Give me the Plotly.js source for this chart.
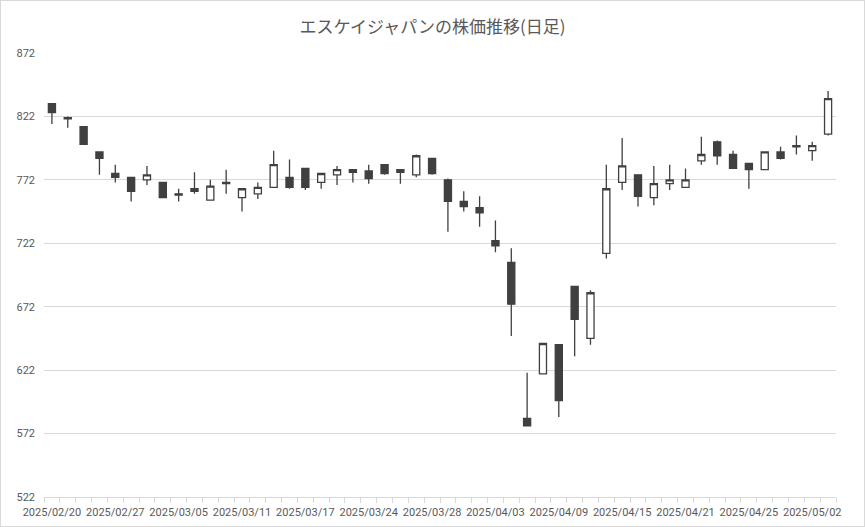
<!DOCTYPE html>
<html>
<head>
<meta charset="utf-8">
<script src="https://cdn.plot.ly/plotly-3.0.1.min.js"></script>
<style>
  html, body { margin: 0; padding: 0; background: #fff; }
  #wrap { position: relative; width: 865px; height: 527px; }
  #chart { width: 865px; height: 527px; }
  #frame { position: absolute; left: 0; top: 0; width: 863px; height: 525px; border: 1px solid #d9d9d9; pointer-events: none; }
</style>
</head>
<body>
<div id="wrap"><div id="chart"></div><div id="frame"></div></div>
<script>
const dates = [
  "2025/02/20","2025/02/21","2025/02/25","2025/02/26","2025/02/27","2025/02/28","2025/03/03","2025/03/04",
  "2025/03/05","2025/03/06","2025/03/07","2025/03/10","2025/03/11","2025/03/12","2025/03/13","2025/03/14",
  "2025/03/17","2025/03/18","2025/03/19","2025/03/21","2025/03/24","2025/03/25","2025/03/26","2025/03/27",
  "2025/03/28","2025/03/31","2025/04/01","2025/04/02","2025/04/03","2025/04/04","2025/04/07","2025/04/08",
  "2025/04/09","2025/04/10","2025/04/11","2025/04/14","2025/04/15","2025/04/16","2025/04/17","2025/04/18",
  "2025/04/21","2025/04/22","2025/04/23","2025/04/24","2025/04/25","2025/04/28","2025/04/30","2025/05/01",
  "2025/05/02","2025/05/07"
];
const openP = [832,820,814,794,777,774,772,770, 761,763,756,770,758,761,766,774,
               781,770,776,780,779,784,780,776, 789,772,755,750,724,707,584,619,
               642,688,647,714,770,776,758,769, 766,787,802,792,785,780,794,799,
               795,808];
const highP = [832,822,814,794,784,774,783,770, 765,778,772,780,765,770,795,788,
               781,777,783,780,784,784,780,792, 789,773,763,759,740,718,620,643,
               642,688,685,784,805,776,783,784, 781,806,803,795,785,794,798,807,
               802,842];
const lowP  = [816,813,800,776,770,755,768,758, 755,761,756,761,747,757,766,765,
               764,765,768,770,769,776,769,774, 776,731,747,735,715,649,578,619,
               585,633,642,710,764,751,752,764, 766,784,784,781,765,780,788,792,
               787,807];
const closeP= [825,821,800,789,774,763,776,758, 760,765,767,769,765,766,784,766,
               766,777,780,778,773,777,778,791, 777,755,751,746,720,674,578,643,
               598,662,683,765,783,759,769,772, 772,792,791,781,780,794,789,798,
               799,836];
const yTicks = [522,572,622,672,722,772,822,872];

const idx = dates.map((d, i) => i);
const labelIdx = idx.filter(i => i % 4 === 0);

const dark = '#404040';
const trace = {
  type: 'candlestick',
  x: idx,
  open: openP, high: highP, low: lowP, close: closeP,
  text: dates,
  increasing: { fillcolor: '#ffffff', line: { color: dark, width: 1.3 } },
  decreasing: { fillcolor: dark, line: { color: dark, width: 1.3 } },
  whiskerwidth: 0,
  hoverinfo: 'text'
};

const tickFont = { family: 'Roboto, "Noto Sans CJK JP", sans-serif', size: 11, color: '#595959' };

const layout = {
  width: 865, height: 527,
  margin: { l: 44, r: 29, t: 53, b: 30 },
  paper_bgcolor: '#ffffff', plot_bgcolor: '#ffffff',
  showlegend: false,
  boxgap: 0.36,
  title: {
    text: 'エスケイジャパンの株価推移(日足)',
    font: { family: '"Noto Sans CJK JP", sans-serif', size: 17, color: '#595959' },
    x: 0.5, xanchor: 'center', y: 0.052, yanchor: 'middle', yref: 'container'
  },
  xaxis: {
    type: 'linear',
    range: [-0.5, dates.length - 0.5],
    rangeslider: { visible: false },
    tickmode: 'array',
    tickvals: labelIdx,
    ticktext: labelIdx.map(i => dates[i]),
    ticks: '',
    ticklabelstandoff: 5,
    showgrid: false,
    zeroline: false,
    showline: true, linecolor: '#d9d9d9', linewidth: 1,
    minor: { ticks: 'outside', tick0: -0.5, dtick: 1, ticklen: 5, tickcolor: '#d9d9d9', tickwidth: 1, showgrid: false },
    tickfont: tickFont,
    fixedrange: true
  },
  yaxis: {
    range: [522, 872],
    tickmode: 'array',
    tickvals: yTicks,
    ticktext: yTicks.map(String),
    ticks: '',
    showgrid: true, gridcolor: '#d9d9d9', gridwidth: 1,
    zeroline: false,
    showline: false,
    tickfont: tickFont,
    ticklabelstandoff: 8,
    fixedrange: true
  }
};
layout.title.y = 1 - 27 / 527;

Plotly.newPlot('chart', [trace], layout, { displayModeBar: false, staticPlot: true });
</script>
</body>
</html>
